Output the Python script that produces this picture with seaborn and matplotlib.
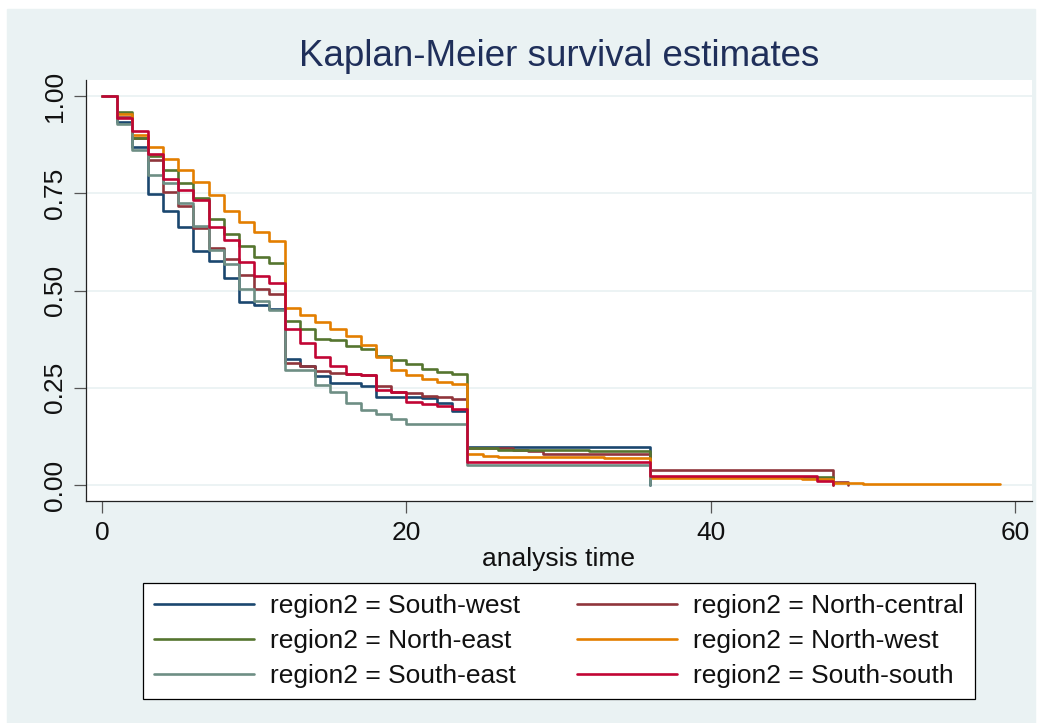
" Kaplan-Meier survival estimates by region "

import pandas as pd
import matplotlib
matplotlib.use('Agg')
import matplotlib.pyplot as plt
import seaborn as sns
from matplotlib.lines import Line2D
from matplotlib.patches import Rectangle

# Survival: one value per interval [t, t+1), t = 0..24
months = list(range(25))

south_west = [1.0, 0.932, 0.870, 0.748, 0.705, 0.662, 0.601, 0.575, 0.531, 0.470,
              0.464, 0.453, 0.323, 0.306, 0.280, 0.263, 0.263, 0.255, 0.227, 0.227,
              0.227, 0.223, 0.212, 0.190, 0.097]
north_central = [1.0, 0.945, 0.893, 0.836, 0.754, 0.718, 0.660, 0.609, 0.580, 0.541,
                 0.503, 0.491, 0.313, 0.306, 0.293, 0.289, 0.285, 0.284, 0.255, 0.238,
                 0.236, 0.229, 0.227, 0.222, 0.094]
north_east = [1.0, 0.958, 0.892, 0.846, 0.809, 0.776, 0.738, 0.685, 0.646, 0.614,
              0.586, 0.570, 0.421, 0.400, 0.376, 0.373, 0.357, 0.349, 0.331, 0.321,
              0.310, 0.297, 0.291, 0.286, 0.094]
north_west = [1.0, 0.954, 0.900, 0.869, 0.838, 0.810, 0.780, 0.746, 0.705, 0.676,
              0.650, 0.627, 0.456, 0.437, 0.420, 0.402, 0.383, 0.359, 0.330, 0.296,
              0.282, 0.272, 0.265, 0.260, 0.079]
south_east = [1.0, 0.928, 0.862, 0.797, 0.777, 0.725, 0.665, 0.603, 0.567, 0.504,
              0.473, 0.451, 0.296, 0.296, 0.257, 0.240, 0.212, 0.192, 0.182, 0.169,
              0.156, 0.156, 0.156, 0.156, 0.052]
south_south = [1.0, 0.944, 0.911, 0.851, 0.786, 0.759, 0.733, 0.664, 0.631, 0.573,
               0.538, 0.518, 0.402, 0.366, 0.330, 0.306, 0.285, 0.284, 0.244, 0.238,
               0.214, 0.208, 0.203, 0.195, 0.058]

# Later steps (time, survival); the last pair marks where the curve ends
sw_tail_t, sw_tail_v = [36], [0.0]
nc_tail_t, nc_tail_v = [27, 28, 29, 36, 48, 49], [0.091, 0.087, 0.081, 0.039, 0.008, 0.0]
ne_tail_t, ne_tail_v = [26, 32, 36, 48], [0.091, 0.088, 0.020, 0.0]
nw_tail_t, nw_tail_v = [25, 26, 31, 33, 36, 46, 48, 50, 59], [0.075, 0.073, 0.071, 0.069, 0.019, 0.016, 0.006, 0.003, 0.003]
se_tail_t, se_tail_v = [36], [0.0]
ss_tail_t, ss_tail_v = [36, 47, 48], [0.024, 0.011, 0.0]

regions = ['South-west', 'North-central', 'North-east', 'North-west', 'South-east', 'South-south']
colors = ['#1A476F', '#90353B', '#55752F', '#E37E00', '#6E8E84', '#C10534']

series = [(south_west, sw_tail_t, sw_tail_v), (north_central, nc_tail_t, nc_tail_v),
          (north_east, ne_tail_t, ne_tail_v), (north_west, nw_tail_t, nw_tail_v),
          (south_east, se_tail_t, se_tail_v), (south_south, ss_tail_t, ss_tail_v)]

rows = []
for name, (head, tail_t, tail_v) in zip(regions, series):
    for t, s in zip(months + tail_t, head + tail_v):
        rows.append({'time': t, 'surv': s, 'region': name})
df = pd.DataFrame(rows)

# Stata s2color look
bg = '#EAF2F3'
sns.set_style('white')
plt.rcParams['font.family'] = ['Liberation Sans', 'DejaVu Sans']

fig = plt.figure(figsize=(10.42, 7.23), dpi=100)
fig.patch.set_facecolor('white')
fig.patches.append(Rectangle((7 / 1042, 0), 1028 / 1042, 1 - 9 / 723,
                             transform=fig.transFigure, color=bg, zorder=-10))

ax = fig.add_axes([86 / 1042, 1 - 501 / 723, 946 / 1042, 421 / 723])
ax.set_facecolor('white')

sns.lineplot(data=df, x='time', y='surv', hue='region', hue_order=regions,
             palette=colors, drawstyle='steps-post', estimator=None,
             lw=1.9, legend=False, ax=ax)

ax.set_xlim(-1.05, 61.1)
ax.set_ylim(-0.041, 1.041)
ax.set_xticks([0, 20, 40, 60])
ax.set_yticks([0, 0.25, 0.5, 0.75, 1.0])
ax.set_yticklabels(['0.00', '0.25', '0.50', '0.75', '1.00'], rotation=90, va='center')
ax.yaxis.grid(True, color=bg, lw=1.3)
ax.set_axisbelow(True)
ax.tick_params(axis='both', labelsize=19, length=8.5, width=0.9, color='#555555',
               labelcolor='#111111', direction='out', left=True, bottom=True)
ax.tick_params(axis='y', pad=5)
ax.tick_params(axis='x', pad=6)
for side in ['top', 'right']:
    ax.spines[side].set_visible(False)
for side in ['left', 'bottom']:
    ax.spines[side].set_color('#222222')
    ax.spines[side].set_linewidth(0.9)

ax.set_xlabel('analysis time', fontsize=19, labelpad=1, color='#111111')
ax.set_ylabel('')

fig.text(559 / 1042, 1 - 57 / 723, 'Kaplan-Meier survival estimates',
         ha='center', va='center', fontsize=26.5, color='#1F2F5A')

# legend fills column by column, so reorder to match the 2-column layout
order = [0, 2, 4, 1, 3, 5]
handles = [Line2D([], [], color=colors[i], lw=1.9) for i in order]
labels = ['region2 = ' + regions[i] for i in order]
leg = fig.legend(handles, labels, ncol=2, loc='center', mode='expand',
                 bbox_to_anchor=(143 / 1042, 1 - 699 / 723, 832 / 1042, 116 / 723),
                 borderaxespad=0, fontsize=19, handlelength=3.8, handletextpad=0.6,
                 labelspacing=0.42, borderpad=0.42, fancybox=False, framealpha=1,
                 edgecolor='black', columnspacing=1.5, labelcolor='#111111')
leg.get_frame().set_linewidth(0.9)

fig.savefig('out.png', dpi=100)
